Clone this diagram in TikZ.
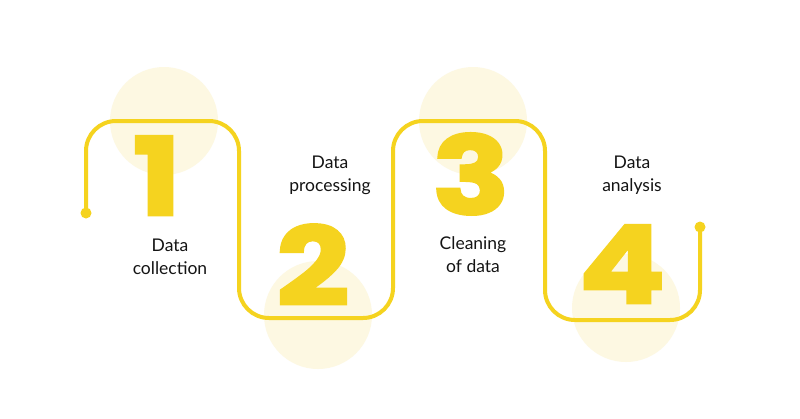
\documentclass[tikz,border=0pt]{standalone}
\usepackage{fontspec}
\setmainfont{Lato}
\newfontfamily\numfont{Poppins}[BoldFeatures={FakeBold=2.5}]
\definecolor{ylw}{HTML}{F5D31F}
\definecolor{pale}{HTML}{FDF8E2}
\definecolor{txt}{HTML}{141414}
\tikzset{
  x=1pt,y=-1pt,
  bubble/.style={fill=pale,draw=none},
  track/.style={draw=ylw,line width=4pt,rounded corners=30pt},
  enddot/.style={fill=ylw,draw=none},
  digit/.style={text=ylw,font=\numfont\bfseries\fontsize{108}{108}\selectfont,inner sep=0pt,
    text height=78pt,text depth=0pt,anchor=base,xscale=1.18},
  label/.style={text=txt,font=\fontsize{17.5}{23}\selectfont,align=center,inner sep=0pt}
}
\begin{document}
\begin{tikzpicture}
\useasboundingbox[fill=white] (0,0) rectangle (800,418);
\fill[bubble] (164,121) circle (54);
\fill[bubble] (318,315) circle (54);
\fill[bubble] (473,121) circle (54);
\fill[bubble] (626,308) circle (54);
\coordinate (s) at (86,213);
\coordinate (e) at (700,227);
\draw[track] (s) -- (86,121) -- (239,121) -- (239,318) -- (393,318) -- (393,121) -- (545,121) -- (545,320) -- (700,320) -- (e);
\fill[enddot] (s) circle (5.5);
\fill[enddot] (e) circle (5.5);
\node[digit] (d1) at (157,215) {1};
\node[digit] (d2) at (313,305) {2};
\node[digit] (d3) at (471,214) {3};
\node[digit] (d4) at (622,303) {4};
\node[label] (l1) at (170,257) {Data\\collection};
\node[label] (l2) at (330,175) {Data\\processing};
\node[label] (l3) at (473,255) {Cleaning\\of data};
\node[label] (l4) at (632,175) {Data\\analysis};
\end{tikzpicture}
\end{document}
